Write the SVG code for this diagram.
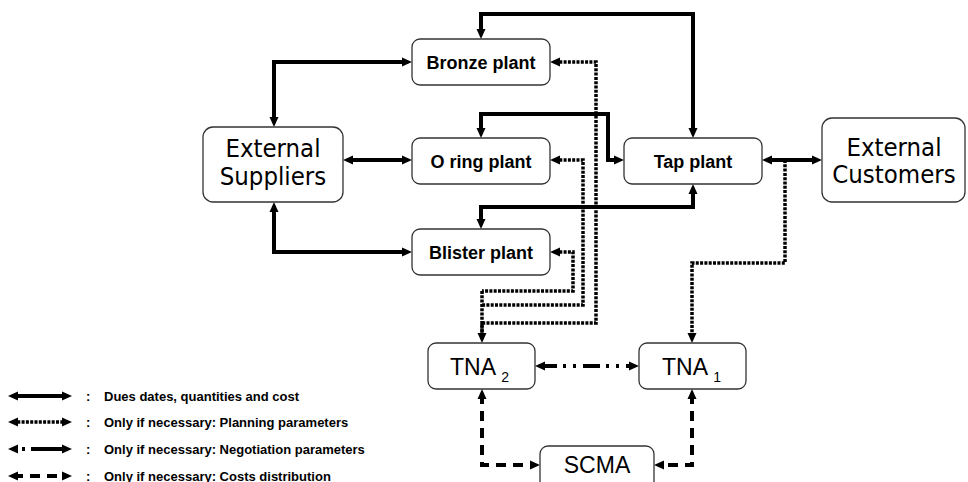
<svg xmlns="http://www.w3.org/2000/svg" width="968" height="482" viewBox="0 0 968 482">
<style>
.box{fill:#fff;stroke:#333;stroke-width:1.3}
.pl{font-family:"Liberation Sans",Arial,sans-serif;font-weight:bold;font-size:18px;text-anchor:middle;fill:#000}
.ext{font-family:"DejaVu Sans Condensed","DejaVu Sans",sans-serif;font-stretch:condensed;font-size:25.5px;text-anchor:middle;fill:#000}
.tn{font-family:"Liberation Sans",Arial,sans-serif;font-size:23px;fill:#000}
.lg{font-family:"Liberation Sans",Arial,sans-serif;font-weight:bold;font-size:13px;fill:#000}
.c{fill:none;stroke:#000;stroke-width:4}
.sol{marker-start:url(#ah);marker-end:url(#ah)}
.dot{stroke-width:3.5;stroke-dasharray:3 1.3}
.dd{stroke-dasharray:17 6 3 7 3 7}
.ds{stroke-dasharray:10 7}
</style>
<defs>
<marker id="ah" markerUnits="userSpaceOnUse" markerWidth="11" markerHeight="10" refX="5" refY="5" orient="auto-start-reverse" viewBox="0 0 11 10">
<path d="M0,0.5 L10,5 L0,9.5 z" fill="#000"/>
</marker>
</defs>
<g id="connectors">
<path class="c sol" d="M481,34 V14 H693 V133"/>
<path class="c sol" d="M274,122 V62 H407"/>
<path class="c sol" d="M348,160 H407"/>
<path class="c sol" d="M274,207 V252 H407"/>
<path class="c sol" d="M481,133 V114 H608 V160 H619"/>
<path class="c sol" d="M693,189 V207 H481 V224"/>
<path class="c sol" d="M767,160 H817"/>
<path class="c dot" d="M555,62 H596 V323 H482 V338" style="marker-start:url(#ah);marker-end:url(#ah)"/>
<path class="c dot" d="M555,160 H583 V305 H482" style="marker-start:url(#ah)"/>
<path class="c dot" d="M555,252 H573 V291 H482" style="marker-start:url(#ah)"/>
<path class="c dot" d="M482,291 V338"/>
<path class="c dot" d="M785,160 V263 H692 V338" style="marker-end:url(#ah)"/>
<path class="c dd sol" d="M540,366 H634"/>
<path class="c ds sol" d="M482,394 V465 H535"/>
<path class="c ds sol" d="M692,394 V465 H659"/>
</g>
<g id="bronze"><rect class="box" x="412" y="39" width="138" height="46" rx="8"/><text class="pl" x="481" y="68.5">Bronze plant</text></g>
<g id="oring"><rect class="box" x="412" y="138" width="138" height="46" rx="8"/><text class="pl" x="481" y="167.5">O ring plant</text></g>
<g id="blister"><rect class="box" x="412" y="229" width="138" height="46" rx="8"/><text class="pl" x="481" y="258.5">Blister plant</text></g>
<g id="tap"><rect class="box" x="624" y="138" width="138" height="46" rx="8"/><text class="pl" x="693" y="167.5">Tap plant</text></g>
<g id="suppliers"><rect class="box" x="203" y="127" width="140" height="75" rx="10"/><text class="ext" x="273" y="157">External</text><text class="ext" x="273" y="185">Suppliers</text></g>
<g id="customers"><rect class="box" x="822" y="118" width="143" height="84" rx="10"/><text class="ext" x="894" y="156">External</text><text class="ext" x="894" y="183">Customers</text></g>
<g id="tna2"><rect class="box" x="428" y="343" width="107" height="46" rx="8"/><text class="tn" x="450" y="375">TNA <tspan font-size="14" dy="7">2</tspan></text></g>
<g id="tna1"><rect class="box" x="639" y="343" width="107" height="46" rx="8"/><text class="tn" x="662" y="375">TNA <tspan font-size="14" dy="7">1</tspan></text></g>
<g id="scma"><rect class="box" x="540" y="446" width="114" height="50" rx="8"/><text class="tn" x="597" y="473" text-anchor="middle">SCMA</text></g>
<g id="legend">
<path class="c sol" d="M13,396 H67"/>
<path class="c dot sol" d="M13,422 H67"/>
<path class="c dd sol" d="M13,449 H67" style="stroke-dasharray:3 6 3 6 40"/>
<path class="c ds sol" d="M13,476 H67"/>
<text class="lg" x="86" y="400.5">:</text>
<text class="lg" x="86" y="426.5">:</text>
<text class="lg" x="86" y="453.5">:</text>
<text class="lg" x="86" y="480.5">:</text>
<text class="lg" x="104" y="400.5">Dues dates, quantities and cost</text>
<text class="lg" x="104" y="426.5">Only if necessary: Planning parameters</text>
<text class="lg" x="104" y="453.5">Only if necessary: Negotiation parameters</text>
<text class="lg" x="104" y="480.5">Only if necessary: Costs distribution</text>
</g>
</svg>
